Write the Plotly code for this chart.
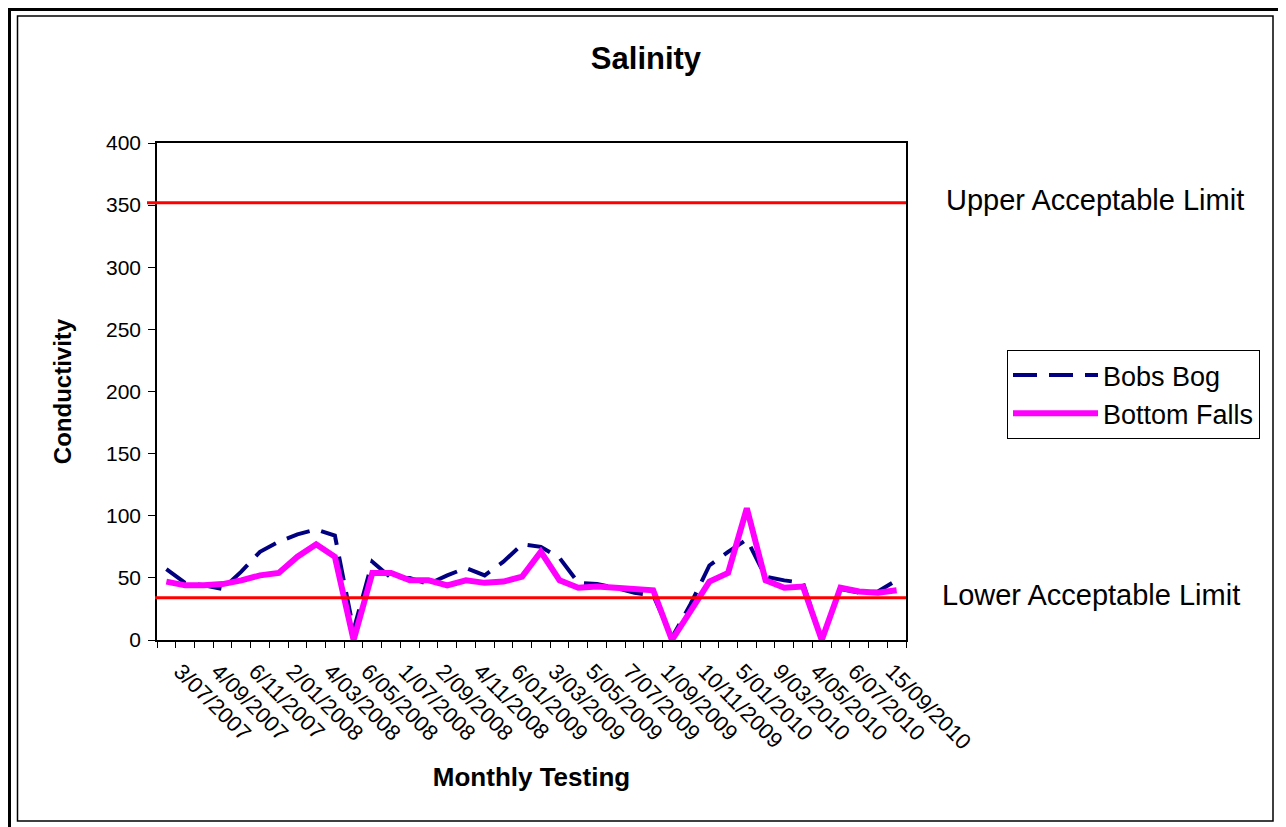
import plotly.graph_objects as go

# ---- data ----
sample_index = list(range(40))
tick_positions = list(range(0, 40, 2))
tick_labels = ["3/07/2007", "4/09/2007", "6/11/2007", "2/01/2008", "4/03/2008",
               "6/05/2008", "1/07/2008", "2/09/2008", "4/11/2008", "6/01/2009",
               "3/03/2009", "5/05/2009", "7/07/2009", "1/09/2009", "10/11/2009",
               "5/01/2010", "9/03/2010", "4/05/2010", "6/07/2010", "15/09/2010"]

bobs_bog = [57, 46, 44, 41, 55, 71, 79, 85, 89, 84,
            8, 63, 50, 50, 45, 52, 58, 52, 63, 77,
            75, 66, 46, 45, 42, 38, 36, 2, 29, 60,
            71, 81, 51, 48, 46, 0, 41, 38, 39, 48]

bottom_falls = [47, 44, 44, 45, 48, 52, 54, 67, 77, 67,
                0, 54, 54, 48, 48, 44, 48, 46, 47, 51,
                71, 48, 42, 43, 42, 41, 40, 0, 24, 47,
                54, 106, 48, 42, 43, 0, 42, 39, 38, 40]

upper_limit = 352
lower_limit = 34

# ---- layout geometry (page pixel coordinates; body margin offsets figure by 8px) ----
OFF = 8
W, H = 1286 - OFF, 827 - OFF
L, R, T, B = 157, 906, 143, 640
PW, PH = R - L, B - T


def px(x):
    return (x - L) / PW


def py(y):
    return (B - y) / PH


FONT = "Liberation Sans, Arial, sans-serif"

fig = go.Figure()
fig.add_trace(go.Scatter(
    x=sample_index, y=bobs_bog, mode="lines", name="Bobs Bog",
    line=dict(color="#000080", width=4, dash="24px,12px")))
fig.add_trace(go.Scatter(
    x=sample_index, y=bottom_falls, mode="lines", name="Bottom Falls",
    line=dict(color="#FF00FF", width=6)))

shapes = [
    # limit lines
    dict(type="line", xref="paper", yref="y", x0=px(147), x1=1, y0=upper_limit, y1=upper_limit,
         line=dict(color="#FF0000", width=3)),
    dict(type="line", xref="paper", yref="y", x0=px(155), x1=1, y0=lower_limit, y1=lower_limit,
         line=dict(color="#FF0000", width=3)),
    # outer frame
    dict(type="path", xref="paper", yref="paper",
         path=f"M {px(9.5)},{py(845)} L {px(9.5)},{py(9.5)} L {px(1282)},{py(9.5)} L {px(1282)},{py(845)}",
         line=dict(color="black", width=3)),
    # inner frame
    dict(type="rect", xref="paper", yref="paper", x0=px(17.5), x1=px(1273), y0=py(821), y1=py(16),
         line=dict(color="black", width=1.5)),
]

annotations = [
    dict(text="Upper Acceptable Limit", xref="paper", yref="paper", x=px(1095), y=py(200),
         showarrow=False, font=dict(family=FONT, size=29, color="black"),
         xanchor="center", yanchor="middle"),
    dict(text="Lower Acceptable Limit", xref="paper", yref="paper", x=px(1091), y=py(595),
         showarrow=False, font=dict(family=FONT, size=29, color="black"),
         xanchor="center", yanchor="middle"),
]

fig.update_layout(
    width=W, height=H, autosize=False,
    margin=dict(l=L - OFF, r=W - (R - OFF), t=T - OFF, b=H - (B - OFF), pad=0),
    paper_bgcolor="white", plot_bgcolor="white",
    font=dict(family=FONT, size=21, color="black"),
    title=dict(text="<b>Salinity</b>", x=(646 - OFF) / W, xref="container", xanchor="center",
               y=1 - (58 - OFF) / H, yref="container", yanchor="middle",
               font=dict(family=FONT, size=31, color="black")),
    showlegend=True,
    legend=dict(x=px(1007), y=py(350), xanchor="left", yanchor="top",
                bordercolor="black", borderwidth=1, bgcolor="white",
                font=dict(family=FONT, size=27, color="black"),
                itemwidth=85),
    shapes=shapes,
    annotations=annotations,
)

fig.update_xaxes(
    range=[-0.5, 39.5], tickmode="array", tickvals=tick_positions, ticktext=tick_labels,
    tickangle=45, ticks="", showgrid=False, zeroline=False,
    showline=True, linecolor="black", linewidth=1.5, mirror=True,
    tickfont=dict(family=FONT, size=22, color="black"),
    ticklabelshift=14, ticklabelstandoff=8,
    minor=dict(tickmode="linear", tick0=-0.5, dtick=1, ticks="outside", ticklen=6,
               tickcolor="black", tickwidth=1, showgrid=False),
    title=dict(text="<b>Monthly Testing</b>", font=dict(family=FONT, size=26, color="black"),
               standoff=14),
)
fig.update_yaxes(
    range=[0, 400], tickmode="linear", tick0=0, dtick=50,
    ticks="outside", ticklen=7, tickcolor="black", tickwidth=1,
    ticklabelstandoff=3,
    showgrid=False, zeroline=False,
    showline=True, linecolor="black", linewidth=1.5, mirror=True,
    tickfont=dict(family=FONT, size=21, color="black"),
    title=dict(text="<b>Conductivity</b>", font=dict(family=FONT, size=24, color="black"),
               standoff=28),
)

fig.write_html("out.html")
